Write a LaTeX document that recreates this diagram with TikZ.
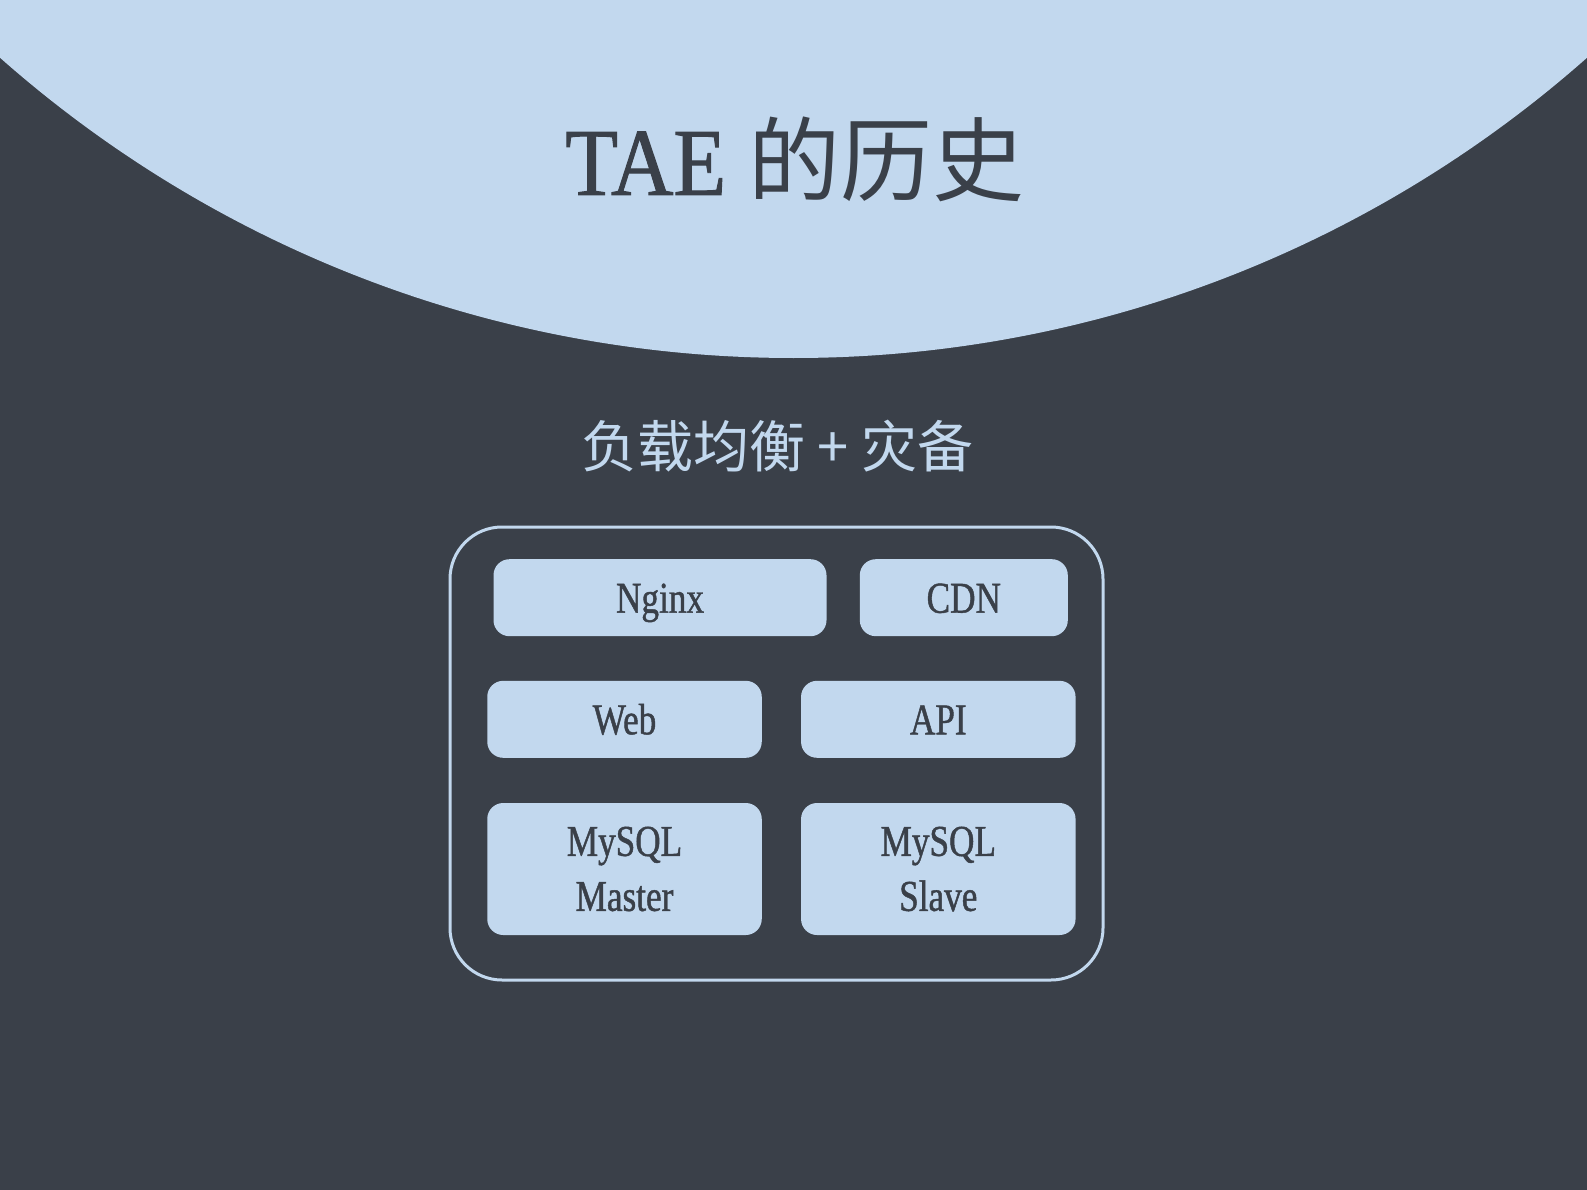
\documentclass[tikz,border=0pt]{standalone}
\usepackage{fontspec}
\setmainfont{Liberation Serif}[FakeStretch=0.8]
\newfontfamily\labelfont{Liberation Serif}[FakeStretch=0.8, FakeBold=1]
\newfontfamily\titlefont{Liberation Serif}[FakeStretch=0.9, FakeBold=1]
\newfontfamily\cjk{Noto Sans CJK SC}
\definecolor{bgdark}{RGB}{58,64,73}
\definecolor{lightblue}{RGB}{194,216,238}
\tikzset{
  svcbox/.style={fill=lightblue, rounded corners=16pt, inner sep=0pt,
    text=bgdark, font=\labelfont\fontsize{44}{55}\selectfont, align=center},
  oneline/.style={svcbox, text height=30pt, text depth=0pt},
  framebox/.style={draw=lightblue, line width=3pt, rounded corners=52pt, inner sep=0pt}
}
\begin{document}
\begin{tikzpicture}[x=1pt,y=-1pt]
\useasboundingbox (0,0) rectangle (1587,1190);
\clip (0,0) rectangle (1587,1190);
\fill[bgdark] (0,0) rectangle (1587,1190);
\fill[lightblue] (793.5,-840.5) circle (1198.5);
% title
\node[anchor=base west, inner sep=0pt, text=bgdark] (title) at (565,195)
  {{\titlefont\fontsize{96}{110}\selectfont TAE}\hspace{22pt}{\cjk\fontsize{92}{110}\selectfont 的历史}};
% subtitle
\node[anchor=base, inner sep=0pt, text=lightblue] (subtitle) at (777.5,467)
  {\cjk\fontsize{56}{66}\selectfont 负载均衡 + 灾备};
% frame
\node[framebox, minimum width=653pt, minimum height=453pt] (frame) at (776.5,753.5) {};
% boxes
\node[oneline, minimum width=333pt, minimum height=77pt] (nginx) at (660,597.7) {Nginx};
\node[oneline, minimum width=208pt, minimum height=77pt] (cdn) at (963.8,597.7) {CDN};
\node[oneline, minimum width=274.5pt, minimum height=77pt] (web) at (624.5,719.3) {Web};
\node[oneline, minimum width=274.5pt, minimum height=77pt] (api) at (938.3,719.3) {API};
\node[svcbox, minimum width=274.5pt, minimum height=132pt] (master) at (624.5,869) {MySQL\\Master};
\node[svcbox, minimum width=274.5pt, minimum height=132pt] (slave) at (938.3,869) {MySQL\\Slave};
\end{tikzpicture}
\end{document}
